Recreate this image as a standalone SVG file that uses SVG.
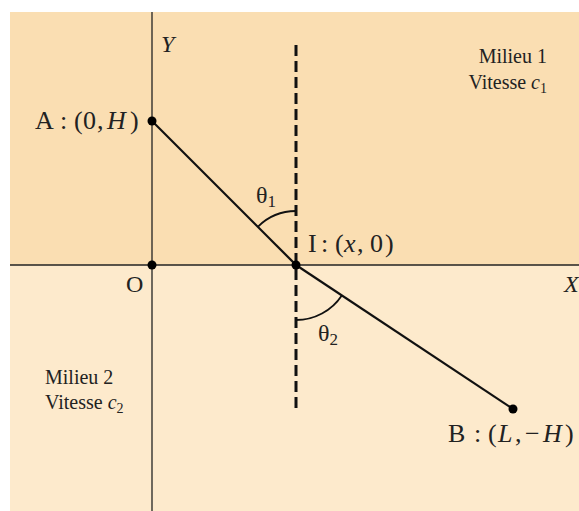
<svg xmlns="http://www.w3.org/2000/svg" width="579" height="511" viewBox="0 0 579 511">
<style>
text{font-family:"Liberation Serif","Times New Roman",serif;font-size:24px;fill:#222}
text.lab{font-size:26px}
.it{font-style:italic}
.sub{font-size:17px}
text.sm{font-size:20px}
.smsub{font-size:14px}
.axis{stroke:#222;stroke-width:1.3;fill:none}
.ray{stroke:#111;stroke-width:2.2;fill:none}
.arc{stroke:#111;stroke-width:1.8;fill:none}
.dot{fill:#000}
</style>
<rect x="0" y="0" width="579" height="511" fill="#fff"/>
<rect x="10" y="12" width="569" height="253" fill="#FADEB2"/>
<rect x="10" y="265" width="569" height="246" fill="#FDEACC"/>
<g id="connectors">
<line class="axis" x1="10" y1="265" x2="579" y2="265"/>
<line class="axis" x1="152" y1="12" x2="152" y2="511"/>
<line stroke="#111" stroke-width="3" stroke-dasharray="11,5" x1="296" y1="45" x2="296" y2="412"/>
<line class="ray" x1="152" y1="121" x2="296" y2="265"/>
<line class="ray" x1="296" y1="265" x2="513" y2="409"/>
<path class="arc" d="M 257.8 226.8 A 54 54 0 0 1 296 211"/>
<path class="arc" d="M 296 320 A 55 55 0 0 0 341.8 295.4"/>
</g>
<g id="axis-labels">
<text class="it" x="161" y="52">Y</text>
<text class="it" x="564" y="292">X</text>
</g>
<g id="O"><circle class="dot" cx="152" cy="265" r="4.5"/><text x="126" y="292">O</text></g>
<g id="A"><circle class="dot" cx="152" cy="121" r="4.5"/><text class="lab" y="129"><tspan x="35">A</tspan><tspan x="60">:</tspan><tspan x="74">(</tspan><tspan x="83">0</tspan><tspan x="97">,</tspan><tspan x="107" class="it">H</tspan><tspan x="130">)</tspan></text></g>
<g id="I"><circle class="dot" cx="296" cy="265" r="4.5"/><text class="lab" y="252"><tspan x="308">I</tspan><tspan x="321">:</tspan><tspan x="335">(</tspan><tspan x="344" class="it">x</tspan><tspan x="357">,</tspan><tspan x="370">0</tspan><tspan x="385">)</tspan></text></g>
<g id="B"><circle class="dot" cx="513" cy="409" r="4.5"/><text class="lab" y="442"><tspan x="448">B</tspan><tspan x="474">:</tspan><tspan x="488">(</tspan><tspan x="498" class="it">L</tspan><tspan x="515">,</tspan><tspan x="525">−</tspan><tspan x="543" class="it">H</tspan><tspan x="565">)</tspan></text></g>
<g id="theta1"><text x="256" y="203">θ<tspan class="sub" dy="4">1</tspan></text></g>
<g id="theta2"><text x="318" y="341">θ<tspan class="sub" dy="4">2</tspan></text></g>
<g id="milieu1"><text class="sm" x="547" y="63" text-anchor="end">Milieu 1</text><text class="sm" x="547" y="89" text-anchor="end">Vitesse <tspan class="it">c</tspan><tspan class="smsub" dy="4">1</tspan></text></g>
<g id="milieu2"><text class="sm" x="45" y="384">Milieu 2</text><text class="sm" x="45" y="409">Vitesse <tspan class="it">c</tspan><tspan class="smsub" dy="4">2</tspan></text></g>
</svg>
